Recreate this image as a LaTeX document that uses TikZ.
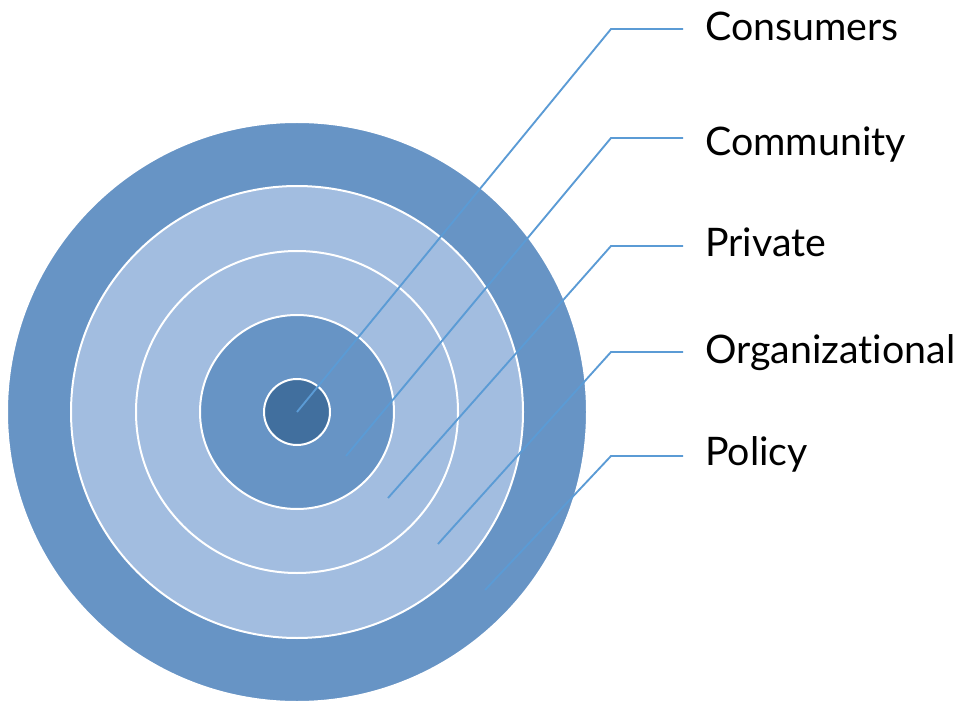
\documentclass[tikz,border=0pt]{standalone}
\usepackage{fontspec}
\setmainfont{Lato}[Ligatures={NoCommon}]
\usepackage{tikz}
\definecolor{ringmid}{HTML}{6794C5}
\definecolor{ringlight}{HTML}{A2BDE0}
\definecolor{ringdark}{HTML}{416F9E}
\definecolor{leadblue}{HTML}{5B9BD5}
\tikzset{
    ring/.style={draw=white, line width=1.5pt},
    leader/.style={draw=leadblue, line width=1.4pt},
    lbl/.style={anchor=base west, inner sep=0pt, font=\fontsize{29.5}{36}\selectfont}
}

\begin{document}
\begin{tikzpicture}[x=0.75pt, y=-0.75pt]
    \useasboundingbox (0,0) rectangle (960,702);
    \coordinate (c) at (297,412);
    % rings, outside in
    \foreach \r/\col in {290/ringmid,226/ringlight,161/ringlight,97/ringmid,33/ringdark} {
        \fill[\col, ring] (c) circle (\r);
    }
    % leaders and labels
    \foreach \name/\sx/\sy/\ky/\by/\txt in {
        consumers/297/412/29/41/Consumers,
        community/346/456/138/156/Community,
        private/388/498/246/257/Private,
        organizational/438/544/352/363/Organizational,
        policy/485/590/456/465/Policy} {
        \coordinate (\name-s) at (\sx,\sy);
        \coordinate (\name-k) at (611,\ky);
        \coordinate (\name-e) at (683,\ky);
        \node[lbl] (\name) at (705,\by) {\txt};
        \draw[leader] (\name-s) -- (\name-k) -- (\name-e);
    }
\end{tikzpicture}
\end{document}
